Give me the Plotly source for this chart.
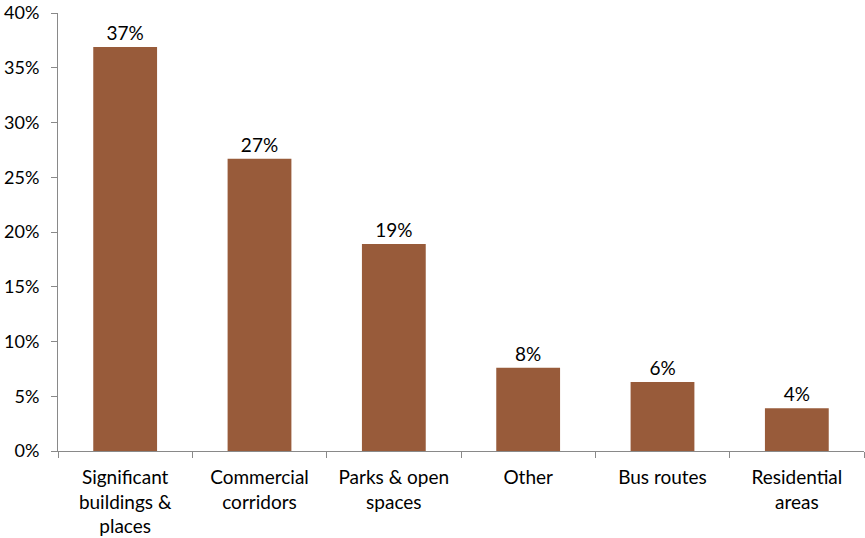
import plotly.graph_objects as go

# Share of responses by location type
categories = [
    "Significant<br>buildings &<br>places",
    "Commercial<br>corridors",
    "Parks & open<br>spaces",
    "Other",
    "Bus routes",
    "Residential<br>areas",
]
shares = [0.369, 0.267, 0.189, 0.076, 0.063, 0.039]

y_ticks = [0, 0.05, 0.10, 0.15, 0.20, 0.25, 0.30, 0.35, 0.40]

FONT = "Lato"
SIZE = 19
BAR = "#985B3A"
AXIS = "#898989"

fig = go.Figure(
    go.Bar(
        x=categories,
        y=shares,
        marker=dict(color=BAR, line=dict(width=0)),
        texttemplate="%{y:.0%}",
        textposition="outside",
        textfont=dict(family=FONT, size=SIZE, color="#000000"),
        cliponaxis=False,
    )
)

fig.update_layout(
    width=865,
    height=538,
    margin=dict(l=58, r=1, t=13, b=87),
    plot_bgcolor="white",
    paper_bgcolor="white",
    bargap=0.525,
    showlegend=False,
    font=dict(family=FONT, size=SIZE, color="#000000"),
)

fig.update_yaxes(
    range=[0, 0.40],
    tickvals=y_ticks,
    tickformat=".0%",
    showgrid=False,
    zeroline=False,
    showline=True,
    linecolor=AXIS,
    linewidth=1,
    ticks="outside",
    ticklen=6,
    tickcolor=AXIS,
    ticklabelstandoff=8,
    automargin=False,
    tickfont=dict(family=FONT, size=18, color="#000000"),
)

fig.update_xaxes(
    showgrid=False,
    showline=True,
    linecolor=AXIS,
    linewidth=1,
    ticks="outside",
    ticklen=6,
    tickcolor=AXIS,
    tickson="boundaries",
    tickangle=0,
    ticklabelstandoff=9,
    automargin=False,
    tickfont=dict(family=FONT, size=SIZE, color="#000000"),
)

fig.write_html("out.html")
